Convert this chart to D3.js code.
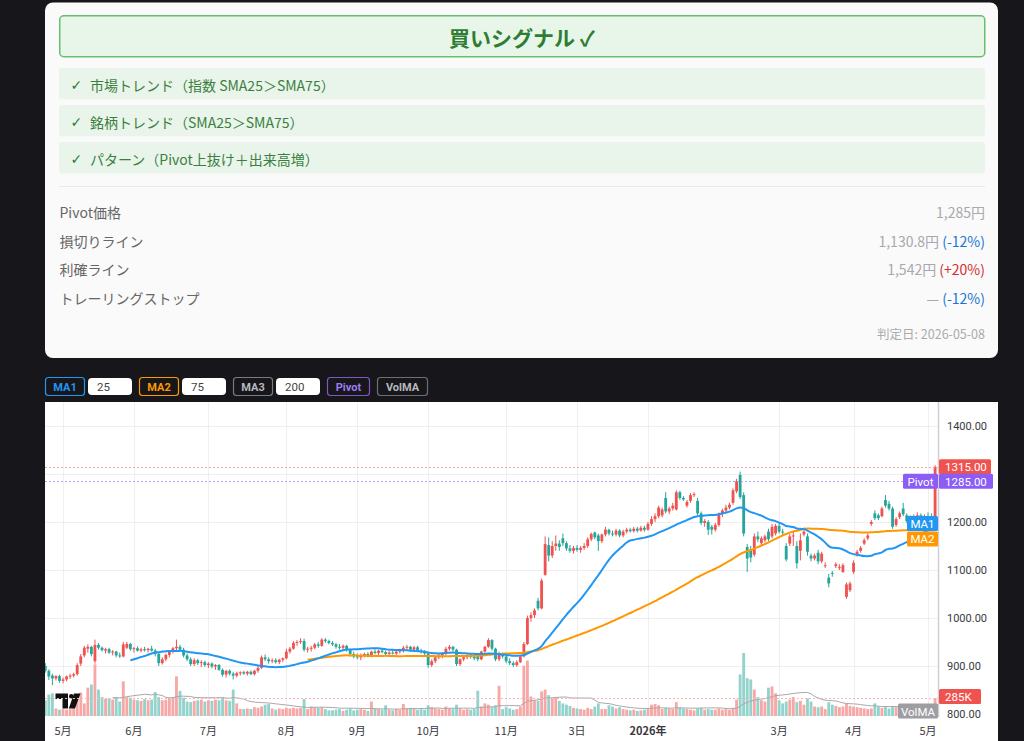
<!DOCTYPE html>
<html><head><meta charset="utf-8">
<script src="https://cdn.jsdelivr.net/npm/d3@7"></script>
<style>
html,body{margin:0;padding:0;background:#16161b;width:1024px;height:741px;overflow:hidden}
svg{display:block}
</style></head><body>
<svg id="c" width="1024" height="741"></svg>
<script>
// ---------------- data ----------------
const holidays = ["2025-04-29","2025-05-05","2025-05-06","2025-07-21","2025-08-11","2025-09-15","2025-09-23","2025-10-13","2025-11-03","2025-11-24","2025-12-31","2026-01-01","2026-01-02","2026-01-12","2026-02-11","2026-02-23","2026-03-20","2026-04-29","2026-05-04","2026-05-05","2026-05-06"];
const firstDate = "2025-04-23", lastDate = "2026-05-08";

const open = [900,890,880,874,879,869,872,878,880,883,905,922,936,940,910,944,938,932,935,928,930,922,920,938,946,
935,937,932,935,933,936,932,925,906,914,923,930,937,940,934,922,914,904,912,906,908,
902,905,899,902,892,882,890,884,880,885,887,884,888,883,890,896,918,914,910,912,908,913,
916,930,936,948,950,952,934,936,938,945,942,955,952,948,945,940,938,942,933,925,
920,918,922,925,921,930,927,932,929,925,928,926,930,932,938,940,934,939,932,929,
926,902,910,918,922,925,936,940,934,904,914,918,922,919,922,914,930,940,954,936,914,924,
920,910,906,902,908,920,946,1000,1006,1036,1020,1090,1152,1130,1150,1155,1166,1156,
1145,1140,1146,1142,1146,1150,1164,1178,1172,1160,1174,1184,1176,1174,1182,1172,1180,1184,1181,1186,1182,1188,
1184,1196,1206,1212,1214,1250,1222,1228,1226,1262,1250,1234,1244,1256,1244,1218,1198,1200,1190,
1184,1194,1216,1224,1230,1240,1264,1298,1256,1148,1142,1132,1170,1156,1162,1180,1170,1176,
1192,1180,1150,1155,1170,1150,1140,1174,1170,1130,1124,1136,1118,1108,1084,1094,1108,1104,1096,1044,1058,
1096,1130,1140,1155,1166,1196,1218,1214,1212,1246,1238,1228,1194,1210,1228,1214,1204,1210,1206,1214,1208,
1212,1210,1200];
const high = [906,893,884,881,882,876,880,884,886,906,925,942,945,942,955,948,941,938,938,933,932,928,950,950,948,
940,941,938,940,938,942,936,928,918,926,932,940,955,944,938,926,918,916,915,912,911,
908,908,904,904,895,892,893,888,888,889,890,890,891,892,900,922,924,918,916,916,915,918,
936,940,952,954,958,957,940,942,948,950,958,958,955,952,948,946,945,944,936,930,
926,926,928,929,932,935,934,936,932,931,933,932,936,942,944,942,942,942,936,933,
928,914,922,926,928,940,944,942,936,916,922,926,926,924,926,932,942,958,956,938,930,928,
924,916,910,912,922,950,1005,1012,1020,1042,1082,1170,1168,1160,1172,1162,1176,1160,
1152,1150,1152,1150,1156,1168,1178,1180,1176,1176,1190,1186,1182,1186,1185,1184,1188,1188,1190,1190,1192,1192,
1200,1212,1218,1234,1230,1262,1232,1240,1266,1265,1254,1246,1260,1262,1250,1222,1206,1204,1194,
1198,1220,1228,1236,1240,1270,1290,1305,1262,1154,1150,1176,1180,1170,1174,1186,1196,1196,
1198,1186,1156,1175,1180,1160,1176,1188,1176,1134,1134,1142,1138,1116,1092,1098,1116,1112,1114,1074,1076,
1120,1142,1150,1166,1176,1204,1224,1218,1232,1256,1244,1232,1210,1222,1240,1218,1214,1216,1220,1218,1216,
1220,1218,1318];
const low = [886,871,860,870,865,864,868,873,876,880,900,918,928,920,905,934,930,926,925,922,918,917,918,935,932,
928,930,928,930,928,930,920,900,903,910,918,926,932,930,918,910,900,900,902,898,898,
896,895,892,890,878,876,880,872,876,880,882,880,881,880,886,894,910,905,906,905,904,908,
914,926,934,942,946,930,928,930,935,938,940,948,945,942,936,934,932,930,920,916,
914,912,918,918,918,924,923,926,922,921,924,922,926,928,932,930,930,929,926,922,
896,898,906,914,916,922,932,930,900,900,910,914,915,912,910,912,928,938,932,910,910,916,
906,902,898,898,906,918,944,992,1000,1016,1018,1088,1118,1125,1140,1140,1150,1140,
1136,1134,1138,1136,1142,1146,1160,1164,1140,1156,1170,1172,1170,1170,1168,1168,1176,1178,1178,1178,1180,1180,
1182,1192,1200,1208,1210,1218,1216,1224,1224,1246,1244,1230,1240,1252,1214,1194,1190,1173,1174,
1180,1190,1210,1218,1226,1236,1260,1248,1170,1096,1116,1128,1158,1150,1158,1160,1166,1172,
1176,1170,1118,1150,1150,1103,1120,1170,1130,1118,1120,1112,1114,1104,1064,1086,1104,1100,1094,1040,1054,
1092,1128,1136,1152,1162,1192,1204,1204,1210,1230,1224,1186,1190,1206,1212,1198,1198,1204,1202,1204,1200,
1206,1200,1196];
const close = [890,878,874,879,869,872,878,880,883,902,920,938,940,925,944,938,933,935,928,930,922,920,945,946,935,
937,932,935,933,936,932,925,906,914,923,930,937,940,934,922,914,904,912,906,908,902,
905,899,902,892,882,890,884,880,885,887,884,888,883,890,896,918,914,910,912,908,913,916,
930,936,948,950,952,934,936,938,945,942,955,952,948,945,940,938,942,933,925,920,
918,922,925,921,930,927,932,929,925,928,926,930,932,938,940,934,939,932,929,926,
902,910,918,922,925,936,940,934,904,914,918,922,919,916,914,930,940,954,936,914,924,920,
910,906,902,908,920,946,1000,1006,1016,1020,1078,1154,1130,1150,1155,1148,1156,1145,
1140,1146,1142,1146,1150,1164,1175,1168,1160,1174,1184,1176,1174,1182,1172,1180,1184,1181,1186,1182,1188,1184,
1196,1206,1212,1230,1226,1222,1228,1234,1262,1250,1247,1242,1256,1258,1218,1198,1202,1184,1184,
1194,1216,1224,1230,1236,1266,1285,1252,1176,1124,1126,1170,1164,1166,1170,1164,1190,1192,
1180,1178,1122,1170,1172,1114,1162,1180,1138,1124,1130,1118,1134,1110,1072,1092,1112,1106,1110,1070,1072,
1115,1138,1146,1162,1172,1200,1208,1208,1228,1234,1228,1190,1206,1218,1216,1202,1210,1206,1214,1208,1212,
1210,1204,1315];
const volume = [250,340,360,120,100,110,100,110,120,320,370,200,450,500,820,420,300,270,280,260,300,230,550,300,290,
260,250,240,270,250,260,380,300,250,260,290,300,630,400,290,230,220,240,250,260,230,
250,240,260,250,300,250,240,420,200,110,110,120,110,140,130,150,180,190,120,100,120,110,
130,120,130,120,130,270,110,150,140,130,140,110,90,90,100,110,80,100,120,90,
100,110,100,80,230,120,110,100,170,100,90,110,100,190,120,130,120,100,110,100,
170,140,120,110,100,150,120,110,180,120,100,110,100,110,400,150,200,180,140,170,480,110,
140,120,100,110,150,800,880,310,250,240,390,420,330,280,300,240,200,180,
160,130,120,110,100,130,110,150,200,110,110,170,150,120,140,110,100,90,100,80,90,100,
120,180,190,170,110,130,120,110,220,140,120,110,100,90,120,130,100,110,100,
100,120,100,110,100,130,260,660,1000,600,580,420,300,250,230,450,470,360,
250,200,230,260,300,220,240,180,280,230,150,140,150,110,220,180,160,140,150,200,160,
150,140,130,120,110,120,200,150,130,150,120,160,140,130,150,140,120,110,120,110,100,
110,150,285];

const maPeriods = [25, 75, 200];
const volMaPeriod = 20;
const pivotPrice = 1285;
const priceTicks = [800,900,1000,1100,1200,1300,1400];
const tickDates = ["2025-05-01","2025-06-02","2025-07-01","2025-08-01","2025-09-01","2025-10-01","2025-11-04","2025-12-03","2026-01-05","2026-03-02","2026-04-01","2026-05-01"];
const tickLabels = ["5月","6月","7月","8月","9月","10月","11月","3日","2026年","3月","4月","5月"];

const signalTitle = "買いシグナル ✓";
const checks = ["市場トレンド（指数 SMA25＞SMA75）","銘柄トレンド（SMA25＞SMA75）","パターン（Pivot上抜け＋出来高増）"];
const infoLabels = ["Pivot価格","損切りライン","利確ライン","トレーリングストップ"];
const infoValues = ["1,285円","1,130.8円","1,542円","—"];
const infoPct = ["","(-12%)","(+20%)","(-12%)"];
const judgeDate = "判定日: 2026-05-08";

// ---------------- helpers ----------------
const fmtDay = d3.utcFormat("%Y-%m-%d");
const dates = (function(){
  const out = []; const hs = new Set(holidays);
  let d = new Date(firstDate + "T00:00:00Z"); const end = new Date(lastDate + "T00:00:00Z");
  while (d <= end) {
    const wd = d.getUTCDay(); const s = fmtDay(d);
    if (wd !== 0 && wd !== 6 && !hs.has(s)) out.push(s);
    d = new Date(d.getTime() + 86400000);
  }
  return out;
})();
function sma(arr, n){ return arr.map((v,i)=> i < n-1 ? null : d3.mean(arr.slice(i-n+1,i+1))); }

const bars = dates.map((d,i)=>({d, o:open[i], h:high[i], l:low[i], c:close[i], v:volume[i]}));
const ma1 = sma(close, maPeriods[0]);
const ma2 = sma(close, maPeriods[1]);
const volMa = sma(volume, volMaPeriod);

const svg = d3.select("#c");
const JP = "'Noto Sans CJK JP','Noto Sans',sans-serif";
const NUM = "Roboto,'Liberation Sans',sans-serif";

// ---------------- signal card ----------------
svg.append("rect").attr("x",45).attr("y",2.5).attr("width",953).attr("height",355.5).attr("rx",8).attr("fill","#fafafa");
svg.append("rect").attr("x",59.75).attr("y",15.75).attr("width",925).attr("height",41).attr("rx",4)
  .attr("fill","#e8f5e9").attr("stroke","#6abf6e").attr("stroke-width",1.5);
svg.append("text").attr("x",522).attr("y",37).attr("text-anchor","middle").attr("dominant-baseline","central")
  .attr("font-family",JP).attr("font-weight",700).attr("font-size",21).attr("fill","#2e7d32").text(signalTitle);

checks.forEach((t,i)=>{
  const y0 = 68 + i*37;
  svg.append("rect").attr("x",59).attr("y",y0).attr("width",926).attr("height",31.5).attr("rx",3).attr("fill","#e9f5ea");
  svg.append("text").attr("x",70.5).attr("y",y0+16.5).attr("dominant-baseline","central")
    .attr("font-family","'DejaVu Sans',sans-serif").attr("font-weight",700).attr("font-size",14).attr("fill","#2e7d32").text("✓");
  svg.append("text").attr("x",90).attr("y",y0+16.5).attr("dominant-baseline","central")
    .attr("font-family",JP).attr("font-size",14).attr("fill","#3b7f3f").text(t);
});
svg.append("line").attr("x1",59).attr("x2",985).attr("y1",186.5).attr("y2",186.5).attr("stroke","#e9e9e9");

infoLabels.forEach((t,i)=>{
  const y = 212 + i*28.5;
  svg.append("text").attr("x",59.5).attr("y",y).attr("dominant-baseline","central")
    .attr("font-family",JP).attr("font-size",14).attr("fill","#666").text(t);
  const tx = svg.append("text").attr("x",985).attr("y",y).attr("text-anchor","end").attr("dominant-baseline","central")
    .attr("font-family",JP).attr("font-size",14);
  tx.append("tspan").attr("fill","#a8a8ae").text(infoValues[i]);
  if (infoPct[i]) tx.append("tspan").attr("fill", infoPct[i].startsWith("(+") ? "#d32f2f" : "#1976d2").text(" " + infoPct[i]);
});
svg.append("text").attr("x",985).attr("y",333).attr("text-anchor","end").attr("dominant-baseline","central")
  .attr("font-family",JP).attr("font-size",12.5).attr("fill","#aaa").text(judgeDate);

// ---------------- toolbar ----------------
const tb = [
  {t:"MA1", x:45, w:39, c:"#2196f3", tc:"#2196f3", input:String(maPeriods[0]), iw:44},
  {t:"MA2", x:139, w:39, c:"#ff9800", tc:"#ff9800", input:String(maPeriods[1]), iw:44},
  {t:"MA3", x:233, w:39, c:"#7a7a80", tc:"#b8b8bd", input:String(maPeriods[2]), iw:44},
  {t:"Pivot", x:327, w:42, c:"#7e57c2", tc:"#9c7bf0"},
  {t:"VolMA", x:377, w:50, c:"#6e6e74", tc:"#b8b8bd"}
];
tb.forEach(b=>{
  svg.append("rect").attr("x",b.x+0.5).attr("y",377.5).attr("width",b.w).attr("height",18).attr("rx",3)
    .attr("fill","#16161b").attr("stroke",b.c).attr("stroke-width",1.2);
  svg.append("text").attr("x",b.x+0.5+b.w/2).attr("y",387).attr("text-anchor","middle").attr("dominant-baseline","central")
    .attr("font-family",NUM).attr("font-weight",700).attr("font-size",11).attr("fill",b.tc).text(b.t);
  if (b.input){
    svg.append("rect").attr("x",b.x+b.w+4).attr("y",378).attr("width",b.iw).attr("height",17).attr("rx",4).attr("fill","#fff");
    svg.append("text").attr("x",b.x+b.w+13).attr("y",387).attr("dominant-baseline","central")
      .attr("font-family",NUM).attr("font-size",11.5).attr("fill","#444").text(b.input);
  }
});

// ---------------- chart ----------------
const PL = 45, PR = 938, PT = 402, PB = 716;
svg.append("rect").attr("x",45).attr("y",402).attr("width",953).attr("height",339).attr("fill","#ffffff");

const x = d3.scaleBand().domain(dates).range([43.53, 936.87]).paddingInner(0).paddingOuter(0);
const step = x.step();
const cx = d => x(d) + x.bandwidth()/2;
const y = d3.scaleLinear().domain([800,1400]).range([714,426]);
const yv = d3.scaleLinear().domain([0, d3.max(volume)]).range([PB, 653]);

svg.append("clipPath").attr("id","plot").append("rect").attr("x",PL).attr("y",PT).attr("width",PR-PL).attr("height",PB-PT);
const g = svg.append("g").attr("clip-path","url(#plot)");

// grid
g.selectAll(".hg").data(priceTicks).join("line").attr("x1",PL).attr("x2",PR)
  .attr("y1",d=>Math.round(y(d))+0.5).attr("y2",d=>Math.round(y(d))+0.5).attr("stroke","#eeeff3");
g.selectAll(".vg").data(tickDates).join("line").attr("y1",PT).attr("y2",PB)
  .attr("x1",d=>Math.round(cx(d))+0.5).attr("x2",d=>Math.round(cx(d))+0.5).attr("stroke","#eeeff3");

// volume
g.selectAll(".vol").data(bars).join("rect")
  .attr("x",d=>cx(d.d)-(step-0.7)/2).attr("width",step-0.7)
  .attr("y",d=>yv(d.v)).attr("height",d=>PB-yv(d.v))
  .attr("fill",d=>d.c>=d.o ? "#f6a8a6" : "#93d3cc");
// vol MA
g.append("path").datum(bars.map((b,i)=>({d:b.d, v:volMa[i]})))
  .attr("fill","none").attr("stroke","#a8a8ac").attr("stroke-width",1)
  .attr("d", d3.line().defined(p=>p.v!=null).x(p=>cx(p.d)).y(p=>yv(p.v)));

// TV logo
const logo = g.append("g").attr("fill","#111");
logo.append("path").attr("d","M55.5,693.5 H68 V708.5 H62.5 V699 H55.5 Z");
logo.append("circle").attr("cx",71.3).attr("cy",696.2).attr("r",2.3);
logo.append("path").attr("d","M74,693.5 H80.5 L75,708.5 H68.8 Z");

// last volume line
g.append("line").attr("x1",PL).attr("x2",PR).attr("y1",Math.round(yv(volume[volume.length-1]))+0.5).attr("y2",Math.round(yv(volume[volume.length-1]))+0.5)
  .attr("stroke","#f7b8b6").attr("stroke-dasharray","2,2");

// candles
const cg = g.append("g");
cg.selectAll(".wick").data(bars).join("rect")
  .attr("x",d=>cx(d.d)-0.5).attr("width",1)
  .attr("y",d=>y(d.h)).attr("height",d=>y(d.l)-y(d.h))
  .attr("fill",d=>d.c>=d.o ? "#ef5350" : "#26a69a");
const bw = step*0.8;
cg.selectAll(".body").data(bars).join("rect")
  .attr("x",d=>cx(d.d)-bw/2).attr("width",bw)
  .attr("y",d=>y(Math.max(d.o,d.c))).attr("height",d=>Math.max(1, Math.abs(y(d.o)-y(d.c))))
  .attr("fill",d=>d.c>=d.o ? "#ef5350" : "#26a69a");

// MAs
const lineGen = d3.line().defined(p=>p.v!=null).x(p=>cx(p.d)).y(p=>y(p.v)).curve(d3.curveMonotoneX);
g.append("path").datum(bars.map((b,i)=>({d:b.d, v:ma2[i]}))).attr("fill","none").attr("stroke","#ff9800").attr("stroke-width",2).attr("d",lineGen);
g.append("path").datum(bars.map((b,i)=>({d:b.d, v:ma1[i]}))).attr("fill","none").attr("stroke","#2196f3").attr("stroke-width",2).attr("d",lineGen);

// price lines
const lastClose = close[close.length-1];
g.append("line").attr("x1",PL).attr("x2",PR).attr("y1",Math.round(y(lastClose))+0.5).attr("y2",Math.round(y(lastClose))+0.5)
  .attr("stroke","#f4a09e").attr("stroke-dasharray","2,2");
g.append("line").attr("x1",PL).attr("x2",PR).attr("y1",Math.round(y(pivotPrice))+0.5).attr("y2",Math.round(y(pivotPrice))+0.5)
  .attr("stroke","#b2a4f8").attr("stroke-dasharray","2,2");

// axis separator
svg.append("line").attr("x1",938.5).attr("x2",938.5).attr("y1",PT).attr("y2",PB+1).attr("stroke","#cfd0d6").attr("stroke-width",1.5);

// price tick labels (skip those hidden by last-value labels)
const hot = [y(lastClose), y(pivotPrice)];
svg.selectAll(".pt").data(priceTicks.filter(t=>hot.every(h=>Math.abs(y(t)-h)>10))).join("text")
  .attr("x",947).attr("y",d=>y(d)).attr("dominant-baseline","central")
  .attr("font-family",NUM).attr("font-size",11).attr("fill","#3a3a3e").text(d=>d.toFixed(2));

// time labels
svg.selectAll(".tl").data(tickDates).join("text")
  .attr("x",d=>cx(d)).attr("y",729.5).attr("text-anchor","middle").attr("dominant-baseline","central")
  .attr("font-family",JP).attr("font-size",11).attr("fill","#3a3a3e")
  .attr("font-weight",(d,i)=>tickLabels[i].includes("年") ? 700 : 400)
  .text((d,i)=>tickLabels[i]);

// labels helper
function tag(x0, w, cyv, fill, txt, anchorX){
  svg.append("rect").attr("x",x0).attr("y",cyv-7.5).attr("width",w).attr("height",15).attr("rx",1.5).attr("fill",fill);
  svg.append("text").attr("x",anchorX!=null?anchorX:x0+w/2).attr("y",cyv+0.5)
    .attr("text-anchor",anchorX!=null?"start":"middle").attr("dominant-baseline","central")
    .attr("font-family",NUM).attr("font-size",11.5).attr("fill","#fff").text(txt);
}
// price axis labels
tag(939, 52, y(lastClose), "#ef5350", lastClose.toFixed(2), 945);
tag(939, 54, y(pivotPrice), "#8b5cf6", pivotPrice.toFixed(2), 945);
tag(903, 35, y(pivotPrice), "#8b5cf6", "Pivot");
// MA title labels with collision push
const m1 = ma1[ma1.length-1], m2 = ma2[ma2.length-1];
let ls = [{t:"MA1", v:y(m1), c:"#2196f3"},{t:"MA2", v:y(m2), c:"#ff9800"}].sort((a,b)=>a.v-b.v);
for (let i=1;i<ls.length;i++) if (ls[i].v - ls[i-1].v < 15.5) ls[i].v = ls[i-1].v + 15.5;
ls.forEach(l=>tag(907, 31, l.v, l.c, l.t));
// volume labels
const vLast = yv(volume[volume.length-1]);
let volLabY = vLast - 1.5, volMaY = yv(volMa[volMa.length-1]);
if (volMaY - volLabY < 14.5) volMaY = volLabY + 14.5;
tag(939, 42, volLabY, "#ef5350", Math.round(volume[volume.length-1]) + "K", 945);
tag(898, 40, volMaY, "#9e9ea2", "VolMA");
</script></body></html>
